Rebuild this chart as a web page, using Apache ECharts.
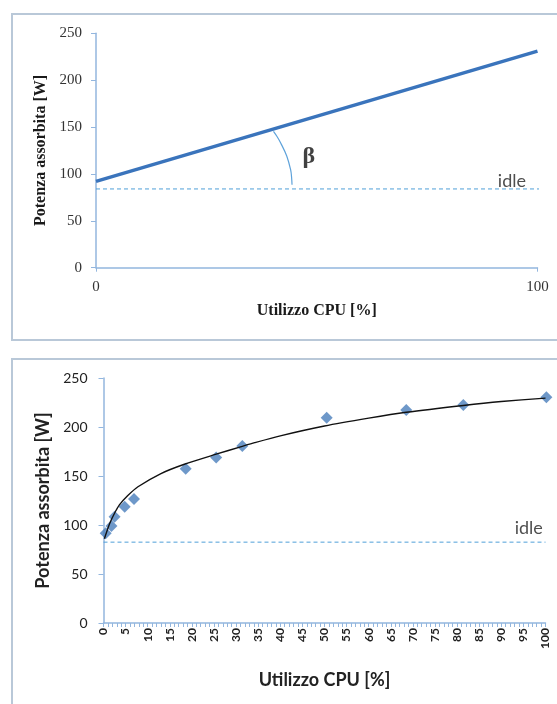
<!DOCTYPE html>
<html><head><meta charset="utf-8">
<script src="https://cdn.jsdelivr.net/npm/echarts@6/dist/echarts.min.js"></script>
<style>html,body{margin:0;padding:0;background:#fff}#c{width:557px;height:704px}</style>
</head><body><div id="c"></div>
<script>
// ---------- top panel: linear model ----------
const linearX = [0, 100];
const linearY = [92, 231];
const idleTopX = [0, 101];
const idleTopY = [84, 84];
const arcX = [40.2, 41.0, 41.8, 43.2, 44.1, 44.3, 44.4];
const arcY = [145.4, 139.9, 133.3, 119.1, 104.1, 96.3, 88.5];
const betaAt = [48.2, 118];
const idleTopLabelAt = [94.2, 92.5];
const topXTicks = [0, 100];
const yTicks = [0, 50, 100, 150, 200, 250];

// ---------- bottom panel: measured + trend ----------
const measX = [0.5, 1.8, 2.5, 4.8, 6.9, 18.6, 25.5, 31.4, 50.5, 68.5, 81.4, 100.2];
const measY = [91.5, 99, 108.5, 118.7, 126.5, 157.5, 169, 180.6, 209.5, 217.3, 222.4, 230.3];
const trendX = [0.2, 1.4, 2.5, 3.6, 5.5, 7.8, 13, 18.3, 25.3, 31.2, 34.2, 40, 50, 60, 68.5, 81.4, 90, 100];
const trendY = [86, 101.5, 112, 120.5, 130, 139, 152.5, 162, 172, 180, 184, 191, 201, 209, 215, 222, 226, 229.5];
const idleBotX = [0, 100];
const idleBotY = [82.5, 82.5];
const idleBotLabelAt = [96.2, 97];
const botXTickStep = 5;

const zip = (a, b) => a.map((v, i) => [v, b[i]]);
const serif = 'Liberation Serif';
const sans = 'Lato';
const axisBlue = '#93b6de';

const chart = echarts.init(document.getElementById('c'), null, {renderer: 'canvas'});
chart.setOption({
  animation: false,
  backgroundColor: '#ffffff',
  graphic: [
    {type: 'rect', shape: {x: 12, y: 14, width: 560, height: 326}, style: {fill: 'none', stroke: '#b9c8d8', lineWidth: 2}, silent: true},
    {type: 'rect', shape: {x: 12, y: 359, width: 560, height: 360}, style: {fill: 'none', stroke: '#b9c8d8', lineWidth: 2}, silent: true}
  ],
  grid: [
    {left: 96, top: 33.3, width: 441.5, height: 234.4},
    {left: 103.5, top: 378, width: 442, height: 245}
  ],
  xAxis: [
    {
      type: 'value', gridIndex: 0, min: topXTicks[0], max: topXTicks[1], interval: topXTicks[1] - topXTicks[0],
      name: 'Utilizzo CPU [%]', nameLocation: 'middle', nameGap: 35,
      nameTextStyle: {fontFamily: serif, fontWeight: 'bold', fontSize: 16, color: '#1a1a1a'},
      axisLine: {show: true, lineStyle: {color: axisBlue, width: 1.5}},
      axisTick: {show: true, length: 4, lineStyle: {color: axisBlue}},
      axisLabel: {fontFamily: serif, fontSize: 15, color: '#333', margin: 12},
      splitLine: {show: false}
    },
    {
      type: 'value', gridIndex: 1, min: 0, max: 100, interval: botXTickStep,
      name: 'Utilizzo CPU [%]', nameLocation: 'middle', nameGap: 48,
      nameTextStyle: {fontFamily: sans, fontWeight: 'bold', fontSize: 18, color: '#222'},
      axisLine: {show: true, lineStyle: {color: axisBlue, width: 1.5}},
      axisTick: {show: true, length: 4, lineStyle: {color: axisBlue}},
      minorTick: {show: true, splitNumber: 5, length: 4, lineStyle: {color: axisBlue}},
      axisLabel: {fontFamily: sans, fontSize: 12, fontWeight: 'bold', color: '#222', margin: 5, rotate: 90},
      splitLine: {show: false}, minorSplitLine: {show: false}
    }
  ],
  yAxis: [
    {
      type: 'value', gridIndex: 0, min: yTicks[0], max: yTicks[yTicks.length - 1], interval: yTicks[1] - yTicks[0],
      name: 'Potenza assorbita [W]', nameLocation: 'middle', nameGap: 45,
      nameTextStyle: {fontFamily: serif, fontWeight: 'bold', fontSize: 16, color: '#1a1a1a'},
      axisLine: {show: true, lineStyle: {color: axisBlue, width: 1.5}},
      axisTick: {show: true, length: 5, lineStyle: {color: axisBlue}},
      axisLabel: {fontFamily: serif, fontSize: 15, color: '#333', margin: 14},
      splitLine: {show: false}
    },
    {
      type: 'value', gridIndex: 1, min: yTicks[0], max: yTicks[yTicks.length - 1], interval: yTicks[1] - yTicks[0],
      name: 'Potenza assorbita [W]', nameLocation: 'middle', nameGap: 51,
      nameTextStyle: {fontFamily: sans, fontWeight: 'bold', fontSize: 18, color: '#222'},
      axisLine: {show: true, lineStyle: {color: axisBlue, width: 1.5}},
      axisTick: {show: true, length: 5, lineStyle: {color: axisBlue}},
      axisLabel: {fontFamily: sans, fontSize: 14, color: '#222', margin: 16},
      splitLine: {show: false}
    }
  ],
  series: [
    {type: 'line', xAxisIndex: 0, yAxisIndex: 0, data: zip(idleTopX, idleTopY), symbol: 'none', clip: false,
     lineStyle: {color: '#4f9fd8', width: 1, type: [4, 3]}, z: 2},
    {type: 'line', xAxisIndex: 0, yAxisIndex: 0, data: zip(linearX, linearY), symbol: 'none',
     lineStyle: {color: '#3a74bc', width: 3.5}, z: 3},
    {type: 'line', xAxisIndex: 0, yAxisIndex: 0, data: zip(arcX, arcY), symbol: 'none', smooth: 0.4,
     lineStyle: {color: '#5ea2da', width: 1.2}, z: 3},
    {type: 'scatter', xAxisIndex: 0, yAxisIndex: 0, symbolSize: 0, z: 5,
     data: [
       {name: 'β', value: betaAt, label: {fontFamily: serif, fontWeight: 'bold', fontSize: 24, color: '#111'}},
       {name: 'idle', value: idleTopLabelAt, label: {fontFamily: sans, fontSize: 18, color: '#222'}}
     ],
     label: {show: true, position: 'inside', formatter: '{b}'}},
    {type: 'line', xAxisIndex: 1, yAxisIndex: 1, data: zip(idleBotX, idleBotY), symbol: 'none',
     lineStyle: {color: '#4f9fd8', width: 1, type: [4, 3]}, z: 2},
    {type: 'scatter', xAxisIndex: 1, yAxisIndex: 1, data: zip(measX, measY), symbol: 'diamond', symbolSize: 12,
     itemStyle: {color: '#4a7ebb'}, z: 3, clip: false},
    {type: 'line', xAxisIndex: 1, yAxisIndex: 1, data: zip(trendX, trendY), symbol: 'none', smooth: 0.25,
     lineStyle: {color: '#111', width: 1.4}, z: 4},
    {type: 'scatter', xAxisIndex: 1, yAxisIndex: 1, symbolSize: 0, z: 5,
     data: [{name: 'idle', value: idleBotLabelAt}],
     label: {show: true, position: 'inside', formatter: '{b}', fontFamily: sans, fontSize: 18, color: '#222'}}
  ]
});
</script>
</body></html>
